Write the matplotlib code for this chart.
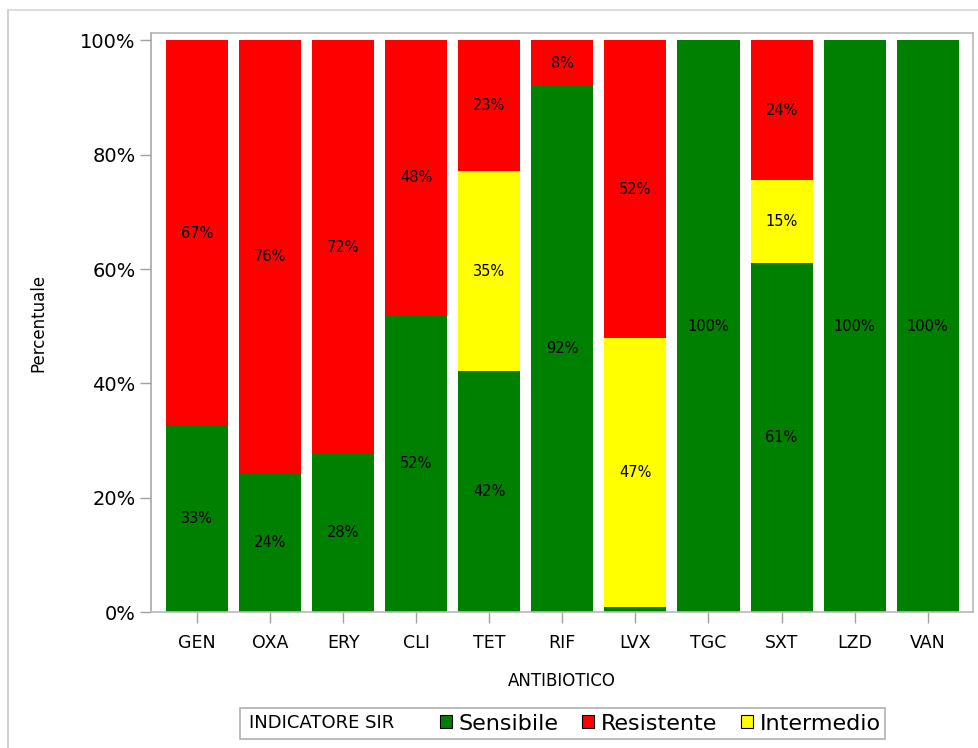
import matplotlib
matplotlib.use("Agg")
import matplotlib.pyplot as plt
from matplotlib.patches import Rectangle
from matplotlib.lines import Line2D
import numpy as np

plt.rcParams['font.family'] = ['DejaVu Sans']

antibiotici = ["GEN", "OXA", "ERY", "CLI", "TET", "RIF", "LVX", "TGC", "SXT", "LZD", "VAN"]
sensibile = [32.6, 24.4, 27.7, 52.0, 42.1, 92.1, 0.9, 100.0, 61.0, 100.0, 100.0]
intermedio = [0.0, 0.0, 0.0, 0.0, 35.0, 0.0, 47.0, 0.0, 14.6, 0.0, 0.0]
resistente = [67.4, 75.6, 72.3, 48.0, 22.9, 7.9, 52.1, 0.0, 24.4, 0.0, 0.0]

green = "#008000"
red = "#FF0000"
yellow = "#FFFF00"

fig = plt.figure(figsize=(9.79, 7.48), dpi=100)
ax = fig.add_axes([151/979, 1-612/748, (973-151)/979, (612-33)/748])

x = np.arange(len(antibiotici))
s = np.array(sensibile)
i = np.array(intermedio)
r = np.array(resistente)
w = 0.85
ax.bar(x, s, width=w, color=green, linewidth=0)
ax.bar(x, i, width=w, bottom=s, color=yellow, linewidth=0)
ax.bar(x, r, width=w, bottom=s+i, color=red, linewidth=0)

for k in range(len(x)):
    base = 0.0
    for v in (s[k], i[k], r[k]):
        if v >= 3:
            ax.text(x[k], base + v/2, f"{v:.0f}%", ha="center", va="center",
                    fontsize=10.5, color="black")
        base += v

ax.set_xlim(-0.63, len(x) - 1 + 0.62)
ax.set_ylim(0, 101.3)
ax.set_yticks([0, 20, 40, 60, 80, 100])
ax.set_yticklabels(["0%", "20%", "40%", "60%", "80%", "100%"], fontsize=14)
ax.set_xticks(x)
ax.set_xticklabels(antibiotici, fontsize=12.5)
ax.tick_params(axis="both", direction="out", length=8, color="#a0a0a0", width=1)
ax.tick_params(axis="x", pad=8)
ax.tick_params(axis="y", pad=3)
for sp in ax.spines.values():
    sp.set_color("#b8b8b8")
    sp.set_linewidth(1.2)
ax.spines["left"].set_color("#a8a8a8")

ax.set_xlabel("ANTIBIOTICO", fontsize=12, labelpad=14)
ax.set_ylabel("Percentuale", fontsize=12, labelpad=24)

# outer border (left and top lines)
fig.add_artist(Line2D([8/979, 8/979], [0, 1-10/748], transform=fig.transFigure,
                      color="#c8c8c8", lw=1.2))
fig.add_artist(Line2D([8/979, 1], [1-10/748, 1-10/748], transform=fig.transFigure,
                      color="#d8d8d8", lw=1.2))

# legend box
lx0, lx1, ly0, ly1 = 240, 885, 708, 739
fig.add_artist(Rectangle((lx0/979, 1-ly1/748), (lx1-lx0)/979, (ly1-ly0)/748,
                         transform=fig.transFigure, facecolor="white",
                         edgecolor="#b0b0b0", lw=1.2))
fig.text(249/979, 1-723.5/748, "INDICATORE SIR", fontsize=13, va="center", ha="left")

handles = [Rectangle((0, 0), 1, 1, facecolor=c, edgecolor="black", lw=0.8)
           for c in (green, red, yellow)]
leg = fig.legend(handles, ["Sensibile", "Resistente", "Intermedio"],
                 loc="center left", bbox_to_anchor=(440/979, 1-723.5/748),
                 ncol=3, frameon=False, fontsize=16, handlelength=0.55,
                 handleheight=0.55, handletextpad=0.3, columnspacing=1.05,
                 borderpad=0, borderaxespad=0)

fig.savefig("out.png", dpi=100)
